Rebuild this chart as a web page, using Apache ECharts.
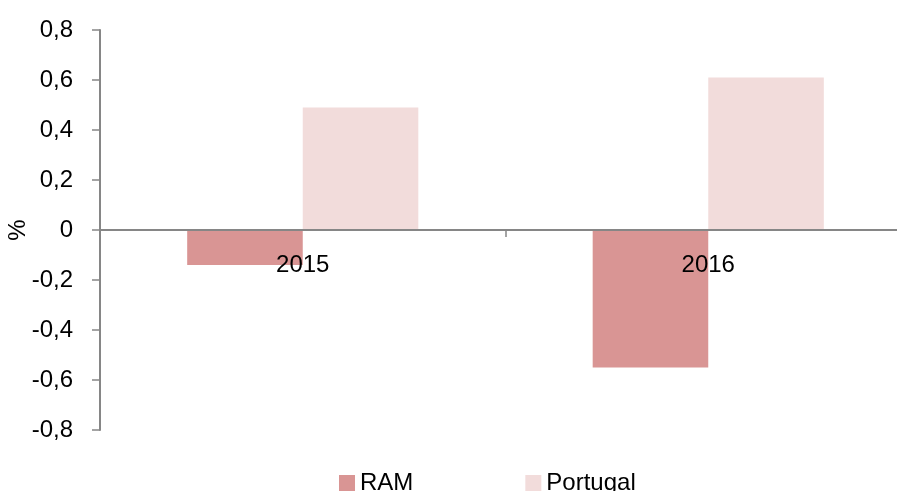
<!DOCTYPE html>
<html>
<head>
<meta charset="utf-8">
<script src="https://cdn.jsdelivr.net/npm/echarts@6/dist/echarts.min.js"></script>
<style>html,body{margin:0;padding:0;background:#fff;}#c{width:897px;height:491px;}</style>
</head>
<body>
<div id="c"></div>
<script>
const categories = ['2015', '2016'];
const seriesNames = ['RAM', 'Portugal'];
const ramValues = [-0.14, -0.55];
const portugalValues = [0.49, 0.61];
const yTicks = { min: -0.8, max: 0.8, interval: 0.2 };
const yAxisTitle = '%';

const font = '"Liberation Sans", Arial, sans-serif';
const chart = echarts.init(document.getElementById('c'), null, { renderer: 'canvas' });
chart.setOption({
  animation: false,
  backgroundColor: '#ffffff',
  grid: { left: 100, right: -14, top: 30, bottom: 61, containLabel: false, outerBoundsMode: 'none' },
  graphic: [{
    type: 'text',
    x: 18, y: 230,
    rotation: Math.PI / 2,
    style: { text: yAxisTitle, font: '24px ' + font, fill: '#000', textAlign: 'center', textVerticalAlign: 'middle' }
  }],
  legend: {
    data: seriesNames,
    top: 466,
    left: 334,
    itemWidth: 16,
    itemHeight: 16,
    itemGap: 112,
    icon: 'rect',
    textStyle: { fontFamily: font, fontSize: 24, color: '#000' }
  },
  xAxis: {
    type: 'category',
    data: categories,
    position: 'bottom',
    offset: -200,
    z: 10,
    axisLine: { onZero: false, lineStyle: { color: '#868686', width: 2 } },
    axisTick: { show: true, length: 7, lineStyle: { color: '#868686', width: 1.5 } },
    axisLabel: { fontFamily: font, fontSize: 24, color: '#000', margin: 23 }
  },
  yAxis: {
    type: 'value',
    min: yTicks.min, max: yTicks.max, interval: yTicks.interval,
    axisLine: { show: true, lineStyle: { color: '#868686', width: 2 } },
    axisTick: { show: true, length: 8, lineStyle: { color: '#868686', width: 1.5 } },
    splitLine: { show: false },
    axisLabel: {
      fontFamily: font, fontSize: 24, color: '#000', margin: 27,
      formatter: function (v) { return Math.abs(v) < 1e-9 ? '0' : v.toFixed(1).replace('.', ','); }
    }
  },
  series: [
    { name: seriesNames[0], type: 'bar', data: ramValues, barGap: '0%', barCategoryGap: '43%', itemStyle: { color: '#D99594' } },
    { name: seriesNames[1], type: 'bar', data: portugalValues, barGap: '0%', barCategoryGap: '43%', itemStyle: { color: '#F2DCDB' } }
  ]
});
</script>
</body>
</html>
